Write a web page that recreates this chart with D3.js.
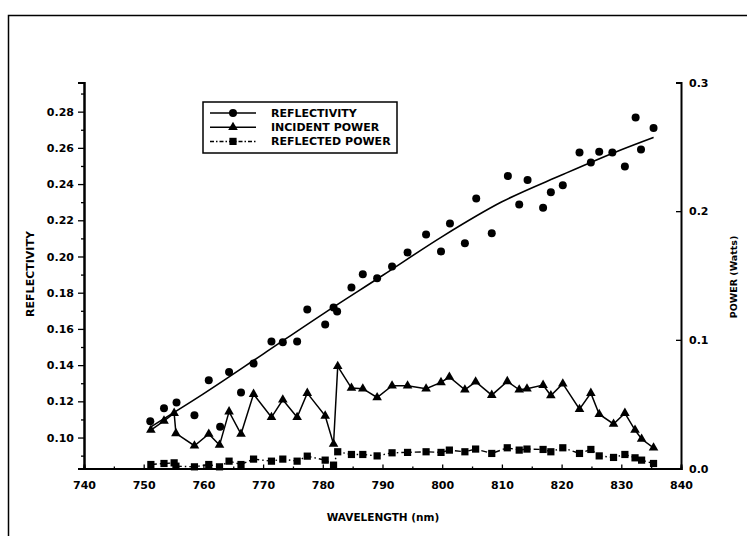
<!DOCTYPE html>
<html>
<head>
<meta charset="utf-8">
<script src="https://cdn.jsdelivr.net/npm/d3@7/dist/d3.min.js"></script>
<style>
  body { margin: 0; background: #fff; }
  svg text { font-family: "DejaVu Sans", sans-serif; font-weight: bold; fill: #000; }
</style>
</head>
<body>
<div id="chart"></div>
<script>
// 反射率の測定点
const wlReflect = [751.1, 753.4, 755.5, 758.5, 760.9, 762.8, 764.3, 766.3, 768.4, 771.4,
  773.3, 775.7, 777.4, 780.4, 781.8, 782.4, 784.8, 786.7, 789.1, 791.6,
  794.2, 797.3, 799.8, 801.3, 803.8, 805.7, 808.3, 811.0, 812.9, 814.3,
  816.9, 818.2, 820.2, 823.0, 824.9, 826.3, 828.5, 830.6, 832.4, 833.3, 835.4];
const reflectivity = [0.109, 0.1162, 0.1193, 0.1123, 0.1317, 0.1059, 0.1362, 0.1249, 0.1409, 0.1530,
  0.1527, 0.1530, 0.1707, 0.1624, 0.1718, 0.1696, 0.1829, 0.1902, 0.1880, 0.1945,
  0.2022, 0.2122, 0.2028, 0.2182, 0.2073, 0.2320, 0.2129, 0.2444, 0.2287, 0.2423,
  0.2269, 0.2355, 0.2394, 0.2575, 0.2519, 0.2578, 0.2575, 0.2497, 0.2768, 0.2591, 0.2710];

// 反射率のフィット曲線
const wlFit = [751, 760, 770, 780, 790, 800, 810, 820, 830, 835.4];
const reflectFit = [0.1055, 0.1241, 0.1461, 0.1682, 0.1895, 0.2110, 0.2302, 0.2450, 0.2590, 0.2658];

// パワー（入射・反射）
const wlPower = [751.2, 753.4, 755.1, 755.4, 758.5, 760.9, 762.7, 764.3, 766.3, 768.4,
  771.4, 773.3, 775.7, 777.4, 780.4, 781.8, 782.5, 784.8, 786.7, 789.1,
  791.6, 794.2, 797.3, 799.8, 801.2, 803.8, 805.6, 808.3, 810.9, 812.9,
  814.2, 816.9, 818.2, 820.2, 823.0, 824.9, 826.3, 828.7, 830.6, 832.3, 833.4, 835.4];
const incidentPower = [0.0299, 0.0370, 0.0430, 0.0273, 0.0177, 0.0268, 0.0182, 0.0442, 0.0268, 0.0578,
  0.0398, 0.0534, 0.0398, 0.0586, 0.0409, 0.0190, 0.0794, 0.0625, 0.0620, 0.0552,
  0.0643, 0.0643, 0.0620, 0.0669, 0.0711, 0.0612, 0.0674, 0.0570, 0.0677, 0.0612,
  0.0620, 0.0648, 0.0567, 0.0659, 0.0461, 0.0586, 0.0422, 0.0346, 0.0430, 0.0299, 0.0229, 0.0161];
const reflectedPower = [0.0031, 0.0039, 0.0044, 0.0018, 0.0013, 0.0031, 0.0013, 0.0057, 0.0031, 0.0073,
  0.0057, 0.0073, 0.0057, 0.0096, 0.0065, 0.0026, 0.0130, 0.0109, 0.0109, 0.0098,
  0.0122, 0.0125, 0.0130, 0.0125, 0.0143, 0.0130, 0.0151, 0.0117, 0.0161, 0.0143,
  0.0151, 0.0148, 0.0130, 0.0161, 0.0117, 0.0148, 0.0098, 0.0086, 0.0109, 0.0083, 0.0065, 0.0039];

// 目盛り
const xTicks = [740, 750, 760, 770, 780, 790, 800, 810, 820, 830, 840];
const leftTicks = [0.10, 0.12, 0.14, 0.16, 0.18, 0.20, 0.22, 0.24, 0.26, 0.28];
const rightTicks = [0.0, 0.1, 0.2, 0.3];
const legendLabels = ["REFLECTIVITY", "INCIDENT POWER", "REFLECTED POWER"];

function drawChart() {
    const svg = d3.select("#chart").append("svg")
                  .attr("width", 747)
                  .attr("height", 536);

    // 外枠（上と左のみ見える）
    svg.append("path")
       .attr("d", "M8.5,536 L8.5,15.5 L747,15.5")
       .attr("fill", "none")
       .attr("stroke", "#000")
       .attr("stroke-width", 1.5);

    const x = d3.scaleLinear().domain([740, 840]).range([84, 681]);
    const yL = d3.scaleLinear().domain([0.0829, 0.2961]).range([468.5, 82.5]);
    const yR = d3.scaleLinear().domain([0, 0.3]).range([468.5, 82.5]);

    // x 軸（目盛りは内向き）
    const gx = svg.append("g").attr("transform", "translate(0,468.5)");
    gx.call(d3.axisBottom(x).tickValues(d3.range(745, 840, 10)).tickSize(-2).tickFormat(""));
    gx.append("g").call(d3.axisBottom(x).tickValues(xTicks).tickSize(-4).tickPadding(13)
                         .tickFormat(d3.format("d")));

    // 左軸（目盛りは外向き）
    const gl = svg.append("g").attr("transform", "translate(84,0)");
    gl.call(d3.axisLeft(yL).tickValues(d3.range(0.09, 0.295, 0.02)).tickSize(3).tickFormat(""));
    gl.append("g").call(d3.axisLeft(yL).tickValues(leftTicks).tickSize(6).tickPadding(4)
                         .tickFormat(d3.format(".2f")));

    // 右軸（目盛りは内向き）
    const gr = svg.append("g").attr("transform", "translate(681,0)");
    gr.call(d3.axisRight(yR).tickValues(rightTicks).tickSize(-5).tickPadding(8)
                .tickFormat(d3.format(".1f")));

    svg.selectAll(".domain").attr("stroke-width", 2).attr("stroke", "#000");
    svg.selectAll(".tick line").attr("stroke", "#000").attr("stroke-width", 1.3);
    svg.selectAll(".tick text").attr("font-size", "11px")
       .attr("font-family", "DejaVu Sans, sans-serif").attr("font-weight", "bold");

    // 軸タイトル
    svg.append("text")
       .attr("x", 383).attr("y", 521)
       .attr("text-anchor", "middle")
       .attr("font-size", "10.5px")
       .text("WAVELENGTH (nm)");
    svg.append("text")
       .attr("transform", "translate(34,274) rotate(-90)")
       .attr("text-anchor", "middle")
       .attr("font-size", "11px")
       .text("REFLECTIVITY");
    svg.append("text")
       .attr("transform", "translate(737,277) rotate(-90)")
       .attr("text-anchor", "middle")
       .attr("font-size", "9.5px")
       .text("POWER (Watts)");

    const refPts = wlReflect.map((w, i) => ({ w: w, v: reflectivity[i] }));
    const fitPts = wlFit.map((w, i) => ({ w: w, v: reflectFit[i] }));
    const incPts = wlPower.map((w, i) => ({ w: w, v: incidentPower[i] }));
    const rflPts = wlPower.map((w, i) => ({ w: w, v: reflectedPower[i] }));

    // フィット曲線
    svg.append("path")
       .datum(fitPts)
       .attr("fill", "none")
       .attr("stroke", "#000")
       .attr("stroke-width", 1.6)
       .attr("d", d3.line().x(d => x(d.w)).y(d => yL(d.v)).curve(d3.curveMonotoneX));

    // 入射パワー
    svg.append("path")
       .datum(incPts)
       .attr("fill", "none")
       .attr("stroke", "#000")
       .attr("stroke-width", 1.5)
       .attr("d", d3.line().x(d => x(d.w)).y(d => yR(d.v)));

    // 反射パワー（一点鎖線）
    svg.append("path")
       .datum(rflPts)
       .attr("fill", "none")
       .attr("stroke", "#000")
       .attr("stroke-width", 1.4)
       .attr("stroke-dasharray", "6,3,1.5,3")
       .attr("d", d3.line().x(d => x(d.w)).y(d => yR(d.v)));

    const tri = d3.symbol().type(d3.symbolTriangle).size(40);
    const sq = d3.symbol().type(d3.symbolSquare).size(52);

    svg.selectAll("circle.ref")
       .data(refPts).enter()
       .append("circle")
       .attr("class", "ref")
       .attr("cx", d => x(d.w))
       .attr("cy", d => yL(d.v))
       .attr("r", 4)
       .attr("fill", "#000");

    svg.selectAll("path.inc")
       .data(incPts).enter()
       .append("path")
       .attr("class", "inc")
       .attr("d", tri)
       .attr("transform", d => `translate(${x(d.w)},${yR(d.v)})`)
       .attr("fill", "#000");

    svg.selectAll("path.rfl")
       .data(rflPts).enter()
       .append("path")
       .attr("class", "rfl")
       .attr("d", sq)
       .attr("transform", d => `translate(${x(d.w)},${yR(d.v)})`)
       .attr("fill", "#000");

    // 凡例
    const lg = svg.append("g");
    lg.append("rect")
      .attr("x", 203).attr("y", 102)
      .attr("width", 194).attr("height", 51)
      .attr("fill", "#fff")
      .attr("stroke", "#000")
      .attr("stroke-width", 1.5);

    const rows = lg.selectAll("g.row")
                   .data(legendLabels).enter()
                   .append("g")
                   .attr("class", "row")
                   .attr("transform", (d, i) => `translate(0,${113 + i * 14.2})`);

    rows.append("line")
        .attr("x1", 210).attr("x2", 256)
        .attr("stroke", "#000")
        .attr("stroke-width", 1.5)
        .attr("stroke-dasharray", (d, i) => i === 2 ? "4,2,1.5,2" : null);

    rows.append("text")
        .attr("x", 271)
        .attr("y", 4)
        .attr("font-size", "11px")
        .text(d => d);

    rows.filter((d, i) => i === 0).append("circle")
        .attr("cx", 233).attr("r", 4).attr("fill", "#000");
    rows.filter((d, i) => i === 1).append("path")
        .attr("d", tri).attr("transform", "translate(233,0)").attr("fill", "#000");
    rows.filter((d, i) => i === 2).append("path")
        .attr("d", sq).attr("transform", "translate(233,0)").attr("fill", "#000");
}

document.addEventListener("DOMContentLoaded", drawChart);
</script>
</body>
</html>
